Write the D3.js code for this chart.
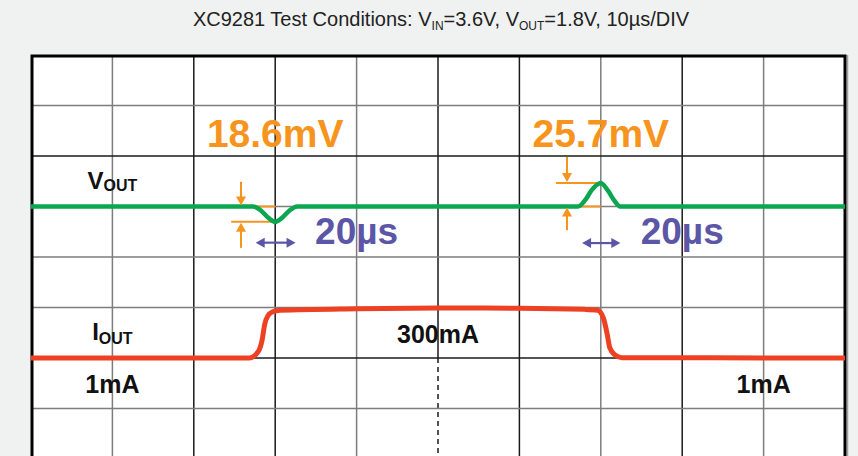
<!DOCTYPE html>
<html>
<head>
<meta charset="utf-8">
<script src="https://cdn.jsdelivr.net/npm/d3@7"></script>
<style>
  body { margin: 0; background: #f0f2f1; }
  svg { display: block; font-family: "Liberation Sans", Arial, sans-serif; }
  .lbl { font-weight: bold; fill: #111; }
</style>
</head>
<body>
<svg id="scope" width="858" height="456"></svg>
<script>
// time axis, 10us/DIV, 10 divisions
var timeTicks = [0, 10, 20, 30, 40, 50, 60, 70, 80, 90, 100];
var divTicks = [0, 1, 2, 3, 4, 5, 6, 7, 8];
// grid line shade, 1 = dark, 0 = grey
var vGridShade = [1, 0, 1, 1, 0, 1, 1, 0, 1, 0, 1];
var hGridShade = [1, 0, 1, 0, 0, 0, 1, 0, 1];

// VOUT deviation (mV) against time (us)
var voutTime = [0, 27.3, 28.3, 29.2, 30.0, 30.8, 31.7, 32.7, 67.2, 68.1, 68.9, 70.0, 70.9, 71.6, 72.4, 100];
var voutMv   = [0, 0, -4.4, -11.5, -15.2, -11.5, -4.4, 0, 0, 6.5, 16.4, 23.2, 15.4, 6.5, 0, 0];

// IOUT (mA) against time (us)
var ioutTime = [0, 26.8, 27.9, 28.4, 28.7, 29.1, 29.7, 30.6, 40, 50, 60, 68, 69.6, 70.3, 70.8, 71.1, 71.7, 72.6, 100];
var ioutMa   = [1, 1, 38, 109, 198, 251, 275, 284, 293, 297, 296, 289, 284, 240, 139, 62, 21, 3, 1];

// annotations: [t, v1, v2] in us / mV
var levelLines = [[24.6, 30.0, 0], [24.6, 30.0, -15.2], [64.5, 70.0, 23.2], [64.5, 70.0, 0]];
var vArrows = [[25.8, 24.5, 0], [25.8, -41, -15.2], [65.85, 49, 23.2], [65.85, -23.5, 0]];
var hArrows = [[27.6, 32.5, -35.8], [67.7, 72.4, -36.2]];
var mvLabels = [{t: 30, text: "18.6mV"}, {t: 70, text: "25.7mV"}];
var usLabels = [{t: 40, text: "20\u00b5s"}, {t: 80, text: "20\u00b5s"}];
var maLabels = [{t: 10, text: "1mA"}, {t: 50, text: "300mA", up: true}, {t: 90, text: "1mA"}];

var svg = d3.select("#scope");

var x = d3.scaleLinear().domain([0, 100]).range([31, 845]);
var yDiv = d3.scaleLinear().domain([0, 8]).range([55, 459]);
var yV = d3.scaleLinear().domain([150, -250]).range([55, 459]);    // 50mV/div
var yI = d3.scaleLinear().domain([1, 300]).range([yDiv(6), yDiv(5)]);

var orange = "#f7941d", blue = "#5b56a6";

// plot area
svg.append("rect")
  .attr("x", x(0)).attr("y", yDiv(0))
  .attr("width", x(100) - x(0)).attr("height", yDiv(8) - yDiv(0))
  .attr("fill", "#fff");

// grid
svg.append("g")
  .selectAll("line")
  .data(timeTicks.slice(1, -1))
  .enter()
  .append("line")
  .attr("x1", function(d) { return x(d); })
  .attr("x2", function(d) { return x(d); })
  .attr("y1", yDiv(0))
  .attr("y2", function(d) { return d === 50 ? yDiv(6) : yDiv(8); })
  .attr("stroke", function(d, i) { return vGridShade[i + 1] ? "#1a1a1a" : "#7d7d7d"; })
  .attr("stroke-width", 1.5);

svg.append("line")    // centre marker, dashed in the lower part
  .attr("x1", x(50)).attr("x2", x(50))
  .attr("y1", yDiv(6)).attr("y2", yDiv(8))
  .attr("stroke", "#1a1a1a")
  .attr("stroke-width", 1.5)
  .attr("stroke-dasharray", "5,4");

svg.append("g")
  .selectAll("line")
  .data(divTicks.slice(1, -1))
  .enter()
  .append("line")
  .attr("x1", x(0))
  .attr("x2", x(100))
  .attr("y1", function(d) { return yDiv(d); })
  .attr("y2", function(d) { return yDiv(d); })
  .attr("stroke", function(d, i) { return hGridShade[i + 1] ? "#1a1a1a" : "#7d7d7d"; })
  .attr("stroke-width", 1.5);

// frame
svg.append("line")
  .attr("x1", x(100) + 2.5).attr("x2", x(100) + 2.5)
  .attr("y1", yDiv(0)).attr("y2", yDiv(8))
  .attr("stroke", "#a0a0a0").attr("stroke-width", 1.5);
svg.append("rect")
  .attr("x", x(0) + 1).attr("y", yDiv(0) + 1)
  .attr("width", x(100) - x(0) - 1).attr("height", yDiv(8) - yDiv(0))
  .attr("fill", "none")
  .attr("stroke", "#000")
  .attr("stroke-width", 3);

// traces
var vLine = d3.line()
  .x(function(d, i) { return x(voutTime[i]); })
  .y(function(d) { return yV(d); })
  .curve(d3.curveMonotoneX);

var iLine = d3.line()
  .x(function(d, i) { return x(ioutTime[i]); })
  .y(function(d) { return yI(d); })
  .curve(d3.curveMonotoneX);

svg.append("path")
  .datum(ioutMa)
  .attr("d", iLine)
  .attr("fill", "none")
  .attr("stroke", "#ee4124")
  .attr("stroke-width", 5);

// orange level markers
svg.append("g")
  .selectAll("line")
  .data(levelLines)
  .enter()
  .append("line")
  .attr("x1", function(d) { return x(d[0]); })
  .attr("x2", function(d) { return x(d[1]); })
  .attr("y1", function(d) { return yV(d[2]); })
  .attr("y2", function(d) { return yV(d[2]); })
  .attr("stroke", orange)
  .attr("stroke-width", 2);

svg.append("path")
  .datum(voutMv)
  .attr("d", vLine)
  .attr("fill", "none")
  .attr("stroke", "#0aa650")
  .attr("stroke-width", 4.5);

function head(g, px, py, dx, dy, col) {
  // small filled triangle pointing along (dx, dy)
  var L = 9, W = 5;
  var nx = -dy, ny = dx;
  var pts = [
    [px, py],
    [px - dx * L + nx * W, py - dy * L + ny * W],
    [px - dx * L - nx * W, py - dy * L - ny * W]
  ];
  g.append("path").attr("d", "M" + pts.join("L") + "Z").attr("fill", col);
}

var ga = svg.append("g");
vArrows.forEach(function(a) {
  var px = x(a[0]), y0 = yV(a[1]), y1 = yV(a[2]);
  var dir = y1 > y0 ? 1 : -1;
  ga.append("line")
    .attr("x1", px).attr("x2", px)
    .attr("y1", y0).attr("y2", y1 - dir * 6)
    .attr("stroke", orange).attr("stroke-width", 2);
  head(ga, px, y1 - dir * 1, 0, dir, orange);
});

hArrows.forEach(function(a) {
  var x0 = x(a[0]), x1 = x(a[1]), py = yV(a[2]);
  ga.append("line")
    .attr("x1", x0 + 6).attr("x2", x1 - 6)
    .attr("y1", py).attr("y2", py)
    .attr("stroke", blue).attr("stroke-width", 2.2);
  head(ga, x0, py, -1, 0, blue);
  head(ga, x1, py, 1, 0, blue);
});

// labels
svg.append("g")
  .selectAll("text")
  .data(mvLabels)
  .enter()
  .append("text")
  .attr("x", function(d) { return x(d.t); })
  .attr("y", 147)
  .attr("text-anchor", "middle")
  .attr("font-weight", "bold")
  .attr("font-size", 39)
  .attr("fill", orange)
  .text(function(d) { return d.text; });

svg.append("g")
  .selectAll("text")
  .data(usLabels)
  .enter()
  .append("text")
  .attr("x", function(d) { return x(d.t); })
  .attr("y", 244)
  .attr("text-anchor", "middle")
  .attr("font-weight", "bold")
  .attr("font-size", 37)
  .attr("fill", blue)
  .text(function(d) { return d.text; });

svg.append("g")
  .selectAll("text")
  .data(maLabels)
  .enter()
  .append("text")
  .attr("class", "lbl")
  .attr("x", function(d) { return x(d.t); })
  .attr("y", function(d) { return d.up ? 343 : 393; })
  .attr("text-anchor", "middle")
  .attr("font-size", 25)
  .text(function(d) { return d.text; });

function subLabel(main, sub, cx, by, shift) {
  var t = svg.append("text")
    .attr("class", "lbl")
    .attr("x", cx)
    .attr("y", by)
    .attr("text-anchor", "middle");
  t.append("tspan").attr("font-size", 24).text(main);
  t.append("tspan").attr("font-size", 16).attr("dy", shift).text(sub);
}
subLabel("V", "OUT", x(10), 189, 2);
subLabel("I", "OUT", x(10), 340, 4);

// title
var title = svg.append("text")
  .attr("x", 441)
  .attr("y", 26)
  .attr("text-anchor", "middle")
  .attr("font-size", 20)
  .attr("fill", "#222");
title.append("tspan").text("XC9281 Test Conditions: V");
title.append("tspan").attr("font-size", 12).attr("dy", 4).text("IN");
title.append("tspan").attr("dy", -4).text("=3.6V, V");
title.append("tspan").attr("font-size", 12).attr("dy", 4).text("OUT");
title.append("tspan").attr("dy", -4).text("=1.8V, 10\u00b5s/DIV");
</script>
</body>
</html>
